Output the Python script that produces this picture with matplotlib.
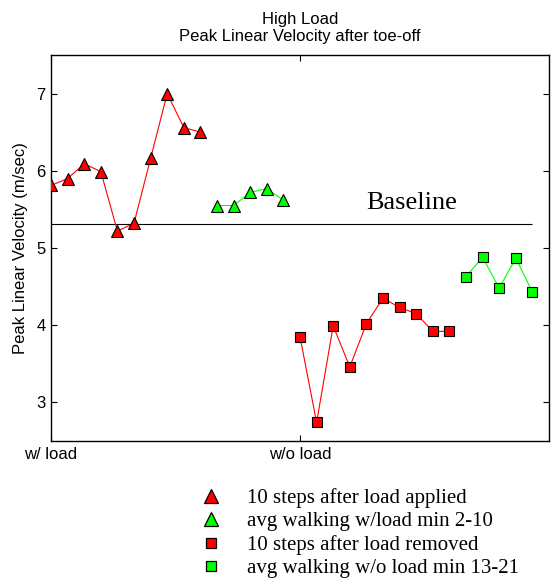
import numpy as np
import matplotlib
matplotlib.use("Agg")
import matplotlib.pyplot as plt
from matplotlib.lines import Line2D

# ---- data ----
load_applied = [5.81, 5.90, 6.09, 5.99, 5.22, 5.32, 6.16, 7.00, 6.56, 6.50]
walk_load = [5.55, 5.55, 5.72, 5.77, 5.62]
load_removed = [3.85, 2.74, 3.99, 3.46, 4.02, 4.35, 4.23, 4.15, 3.92, 3.92]
walk_noload = [4.63, 4.88, 4.48, 4.87, 4.43]
baseline = 5.31
xtick_labels = ["w/ load", "w/o load"]
legend_labels = ["10 steps after load applied", "avg walking w/load min 2-10",
                 "10 steps after load removed", "avg walking w/o load min 13-21"]

plt.rcParams['font.family'] = ['Liberation Sans', 'DejaVu Sans']

fig = plt.figure(figsize=(5.52, 5.80), dpi=100)
ax = fig.add_axes([51/552, 1-441/580, 498/552, 386/580])

n1, n2, n3, n4 = len(load_applied), len(walk_load), len(load_removed), len(walk_noload)
x1 = np.arange(n1)
x2 = np.arange(n2) + n1
x3 = np.arange(n3) + n1 + n2
x4 = np.arange(n4) + n1 + n2 + n3

red, green = (1, 0, 0), (0, 1, 0)
lw = 0.8
ax.plot(x1, load_applied, '-', color=red, lw=lw, zorder=2)
ax.plot(x2, walk_load, '-', color=green, lw=lw, zorder=2)
ax.plot(x3, load_removed, '-', color=red, lw=lw, zorder=2)
ax.plot(x4, walk_noload, '-', color=green, lw=lw, zorder=2)

tri_ms, sq_ms = 8.0, 6.6
ax.plot(x1, load_applied, '^', ls='none', mfc=red, mec='k', mew=0.8, ms=tri_ms, zorder=3)
ax.plot(x2, walk_load, '^', ls='none', mfc=green, mec='k', mew=0.8, ms=tri_ms, zorder=3)
ax.plot(x3, load_removed, 's', ls='none', mfc=red, mec='k', mew=0.8, ms=sq_ms, zorder=3)
ax.plot(x4, walk_noload, 's', ls='none', mfc=green, mec='k', mew=0.8, ms=sq_ms, zorder=3)

ax.hlines(baseline, x1[0], x4[-1], color='k', lw=0.8, zorder=1)
ax.text(21.7, baseline + 0.19, "Baseline", family='Liberation Serif', fontsize=19,
        ha='center', va='baseline')

ax.set_xlim(0, 30)
ax.set_ylim(2.5, 7.5)
ax.set_xticks([x1[0], x3[0]])
ax.set_xticklabels(xtick_labels, fontsize=12)
ax.set_yticks([3, 4, 5, 6, 7])
ax.set_yticklabels(["3", "4", "5", "6", "7"], fontsize=12)
ax.tick_params(direction='in', length=4, width=0.8, top=True, right=True, pad=4)
for s in ax.spines.values():
    s.set_linewidth(1.0)
ax.set_ylabel("Peak Linear Velocity (m/sec)", fontsize=12, labelpad=6)
ax.set_title("High Load\nPeak Linear Velocity after toe-off", fontsize=12,
             pad=10, linespacing=1.15)

handles = [
    Line2D([], [], marker='^', ls='none', mfc=red, mec='k', mew=0.9, ms=10),
    Line2D([], [], marker='^', ls='none', mfc=green, mec='k', mew=0.9, ms=10),
    Line2D([], [], marker='s', ls='none', mfc=red, mec='k', mew=0.9, ms=sq_ms),
    Line2D([], [], marker='s', ls='none', mfc=green, mec='k', mew=0.9, ms=sq_ms),
]
fig.legend(handles, legend_labels, loc='upper left', bbox_to_anchor=(201/552, 1-488/580),
           frameon=False, prop={'family': 'Liberation Serif', 'size': 15},
           handlelength=1.0, handletextpad=1.2, labelspacing=0.18, borderpad=0,
           borderaxespad=0)

fig.savefig("out.png", dpi=100)
